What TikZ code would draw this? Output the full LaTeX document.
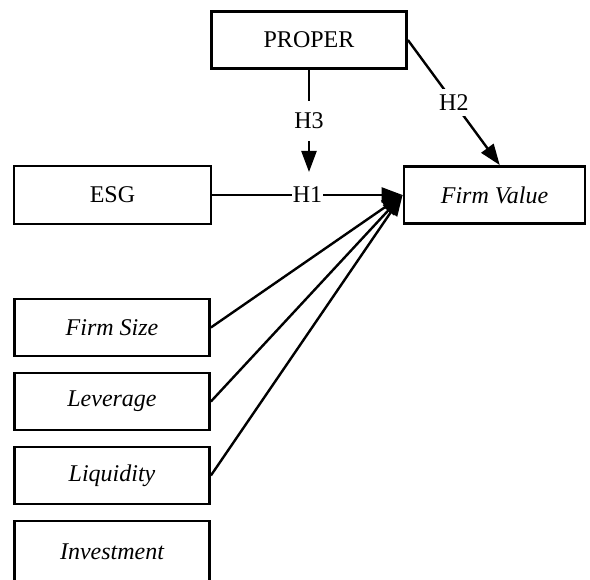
\documentclass[tikz,border=0pt]{standalone}
\usepackage{fontspec}
\setmainfont{Liberation Serif}
\usetikzlibrary{arrows.meta,positioning}

\begin{document}
\begin{tikzpicture}[
  x=1pt, y=-1pt,
  font=\fontsize{24}{28}\selectfont,
  node distance=14.2pt and 4mm,
  var/.style={draw=black, line width=2.8pt, minimum width=195pt, minimum height=57pt, inner sep=2pt, align=center, fill=white},
  ctrl/.style={var, font=\fontsize{24}{28}\selectfont\itshape},
  link/.style={draw=black, line width=2.4pt},
  arrow/.style={link, -{Triangle[length=21pt,width=15pt]}},
  hyp/.style={fill=white, inner xsep=1pt, inner ysep=6pt},
]
\useasboundingbox (0,0) rectangle (590,580);

% moderator, independent and dependent variable
\node[var] (proper) at (309,40) {PROPER};
\node[var, minimum width=197pt, minimum height=58pt] (esg) at (112.5,195) {ESG};
\node[ctrl, minimum width=181pt] (value) at (494.5,195) {Firm Value};

% control variables
\node[ctrl] (size) at (112,327.5) {Firm Size};
\node[ctrl, below=of size] (lev) {Leverage};
\node[ctrl, below=of lev] (liq) {Liquidity};
\node[ctrl, below=of liq, minimum height=62pt] (inv) {Investment};

\coordinate (h3end) at (309,172);
\draw[arrow] (esg) -- node[hyp] {H1} (value);
\draw[arrow] (proper.east) -- node[hyp] {H2} (value.80);
\draw[arrow] (proper) -- node[hyp, inner ysep=12pt] {H3} (h3end);
\foreach \v in {size,lev,liq}
  \draw[arrow] (\v.east) -- (value.west);
\end{tikzpicture}
\end{document}
